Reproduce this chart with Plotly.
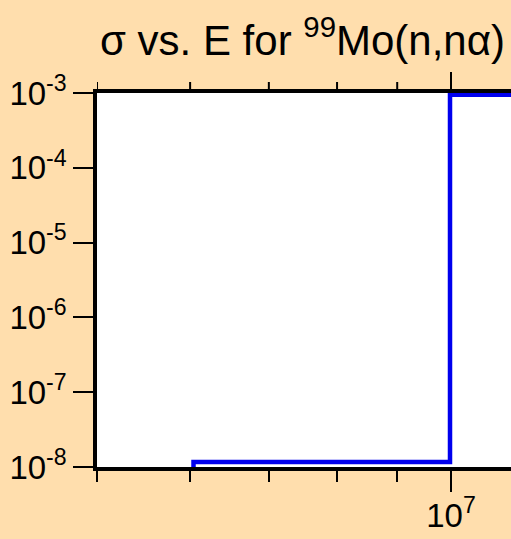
import math
import plotly.graph_objects as go

# --- data --------------------------------------------------------------------
energy_eV = [5.9e6, 6.04e6, 9.98e6, 2.0e7]
sigma_b = [1e-10, 1.17e-8, 9.5e-4, 9.5e-4]

y_tickvals = [1e-8, 1e-7, 1e-6, 1e-5, 1e-4, 1e-3]
y_ticktext = ["10<sup>-8</sup>", "10<sup>-7</sup>", "10<sup>-6</sup>",
              "10<sup>-5</sup>", "10<sup>-4</sup>", "10<sup>-3</sup>"]
x_tickvals = [1e7]
x_ticktext = ["10<sup>7</sup>"]
x_minor = [5e6, 6e6, 7e6, 8e6, 9e6]

FONT = "Liberation Sans, Arial, sans-serif"
BG = "#FFDEAD"
X_RANGE = [math.log10(5e6), 7.051]
PLOT_H = 539 - 93 - 72  # plot area height in px

fig = go.Figure()
fig.add_trace(
    go.Scatter(
        x=energy_eV,
        y=sigma_b,
        mode="lines",
        line=dict(color="#0000EE", width=4.5, shape="hv"),
        showlegend=False,
    )
)

fig.update_xaxes(
    type="log",
    range=X_RANGE,
    showgrid=False,
    zeroline=False,
    showline=True,
    linecolor="black",
    linewidth=3.5,
    mirror=True,
    ticks="outside",
    ticklen=21,
    tickwidth=2,
    tickcolor="black",
    tickmode="array",
    tickvals=x_tickvals,
    ticktext=x_ticktext,
    tickfont=dict(family=FONT, size=33, color="black"),
    ticklabelstandoff=-4,
    minor=dict(tickmode="array", tickvals=x_minor, ticks="outside",
               ticklen=11, tickwidth=2, tickcolor="black", showgrid=False),
)
fig.update_yaxes(
    type="log",
    range=[-8, -3],
    showgrid=False,
    zeroline=False,
    showline=True,
    linecolor="black",
    linewidth=3.5,
    ticks="outside",
    ticklen=20,
    tickwidth=2,
    tickcolor="black",
    tickmode="array",
    tickvals=y_tickvals,
    ticktext=y_ticktext,
    tickfont=dict(family=FONT, size=33, color="black"),
)

# ticks along the top edge, pointing up (same tick values as the bottom axis)
for v, tl in [(v, 21) for v in x_tickvals] + [(v, 11) for v in x_minor]:
    fig.add_shape(
        type="line",
        xref="x",
        yref="paper",
        x0=v,
        x1=v,
        y0=1,
        y1=1 + tl / PLOT_H,
        line=dict(color="black", width=2),
        layer="above",
    )

fig.update_layout(
    width=511,
    height=539,
    margin=dict(l=97, r=0, t=93, b=72),
    paper_bgcolor=BG,
    plot_bgcolor="white",
    title=dict(
        text="σ vs. E for <sup>99</sup>Mo(n,nα)",
        x=100 / 511,
        xanchor="left",
        y=1 - 40 / 539,
        yanchor="middle",
        font=dict(family=FONT, size=42, color="black"),
    ),
)

# page body margin would shift the figure by 8px
fig.write_html(
    "out.html",
    config={"displayModeBar": False},
    post_script="document.body.style.margin='0';",
)
